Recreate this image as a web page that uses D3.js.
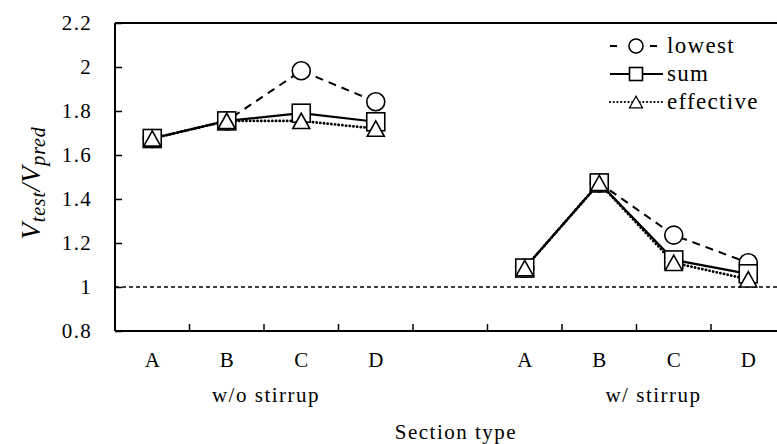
<!DOCTYPE html>
<html>
<head>
<meta charset="utf-8">
<script src="https://cdn.jsdelivr.net/npm/d3@7"></script>
<style>
body { margin: 0; background: #fff; }
</style>
</head>
<body>
<script>
// section types and groups
var sections = ["A", "B", "C", "D"];
var groups = ["w/o stirrup", "w/ stirrup"];
var yTicks = [0.8, 1, 1.2, 1.4, 1.6, 1.8, 2, 2.2];

// Vtest/Vpred ratios, one array per group
var lowest = [[1.675, 1.755, 1.983, 1.842], [1.086, 1.473, 1.236, 1.11]];
var sum = [[1.675, 1.755, 1.79, 1.751], [1.086, 1.473, 1.123, 1.06]];
var effective = [[1.675, 1.755, 1.755, 1.72], [1.086, 1.473, 1.11, 1.035]];

(function(){

var width = 777, height = 444;
var plotLeft = 115, plotTop = 23, plotBottom = 331;
var slotW = 74.5;
var serif = "'Liberation Serif', 'DejaVu Serif', serif";

var svg = d3.select("body").append("svg")
	.attr("width", width)
	.attr("height", height)
	.attr("font-family", serif);

// 9 slots: 4 sections, one empty gap, 4 sections
var slots = [];
groups.forEach(function(g, gi){
	sections.forEach(function(s){ slots.push(gi + s); });
	if (gi == 0) slots.push("gap");
});

var x = d3.scaleBand()
	.domain(slots)
	.range([plotLeft, plotLeft + slotW * slots.length])
	.padding(0);

var y = d3.scaleLinear()
	.domain([0.8, 2.2])
	.range([plotBottom, plotTop]);

function cx(gi, i){ return x(gi + sections[i]) + x.bandwidth() / 2; }

//y axis with inward ticks
var yAxis = svg.append("g")
	.attr("transform", "translate(" + plotLeft + ",0)")
	.call(d3.axisLeft(y).tickValues(yTicks).tickSize(-7).tickPadding(23)
		.tickFormat(function(d){ return String(+d.toFixed(1)); }));
yAxis.attr("font-family", serif).attr("font-size", 21);
yAxis.select(".domain").remove();
yAxis.selectAll(".tick line").attr("stroke", "#000").attr("stroke-width", 1.5);
yAxis.selectAll(".tick text").attr("fill", "#000").attr("letter-spacing", "1.3px");

//x axis: ticks at slot boundaries, pointing up
var boundaries = slots.slice(0, -1).map(function(s){ return x(s) + x.bandwidth(); });
svg.append("g")
	.selectAll("line")
	.data(boundaries.concat([x.range()[1]]))
	.enter()
	.append("line")
	.attr("x1", function(d){ return d; })
	.attr("x2", function(d){ return d; })
	.attr("y1", plotBottom)
	.attr("y2", plotBottom - 7)
	.attr("stroke", "#000")
	.attr("stroke-width", 1.5);

//frame lines: left, bottom, top
svg.append("line").attr("x1", plotLeft).attr("x2", plotLeft).attr("y1", plotTop).attr("y2", plotBottom)
	.attr("stroke", "#000").attr("stroke-width", 2);
svg.append("line").attr("x1", plotLeft).attr("x2", width).attr("y1", plotBottom).attr("y2", plotBottom)
	.attr("stroke", "#000").attr("stroke-width", 2);
svg.append("line").attr("x1", plotLeft).attr("x2", width).attr("y1", plotTop).attr("y2", plotTop)
	.attr("stroke", "#000").attr("stroke-width", 2);

//reference line at 1
svg.append("line")
	.attr("x1", plotLeft).attr("x2", width)
	.attr("y1", y(1)).attr("y2", y(1))
	.attr("stroke", "#000").attr("stroke-width", 1.5)
	.attr("stroke-dasharray", "4,3");

//section labels
groups.forEach(function(g, gi){
	svg.selectAll(".sec" + gi)
		.data(sections)
		.enter()
		.append("text")
		.attr("class", "sec" + gi)
		.attr("x", function(d, i){ return cx(gi, i); })
		.attr("y", 367)
		.attr("text-anchor", "middle")
		.attr("font-size", 21)
		.text(function(d){ return d; });
	svg.append("text")
		.attr("x", x(gi + "B") + x.bandwidth() + (gi == 0 ? 2 : 17))
		.attr("y", 402)
		.attr("text-anchor", "middle")
		.attr("font-size", 21)
		.attr("letter-spacing", "1.5px")
		.text(g);
});

svg.append("text")
	.attr("x", 456)
	.attr("y", 439)
	.attr("text-anchor", "middle")
	.attr("font-size", 21)
	.attr("letter-spacing", "1.5px")
	.text("Section type");

//y label
var yl = svg.append("text")
	.attr("transform", "translate(40,183) rotate(-90)")
	.attr("text-anchor", "middle")
	.attr("font-size", 27)
	.attr("font-style", "italic")
	.attr("letter-spacing", "0.8px");
yl.append("tspan").text("V");
yl.append("tspan").attr("dy", 5).attr("font-size", 20).text("test");
yl.append("tspan").attr("dy", -5).text("/V");
yl.append("tspan").attr("dy", 5).attr("font-size", 20).text("pred");

//lines
var series = [
	{name: "lowest", vals: lowest, dash: "8,6", cap: "butt", w: 2},
	{name: "sum", vals: sum, dash: null, cap: "butt", w: 2.2},
	{name: "effective", vals: effective, dash: "0.1,3.6", cap: "round", w: 2.8}
];

var line = d3.line()
	.x(function(d){ return d[0]; })
	.y(function(d){ return y(d[1]); });

series.forEach(function(s){
	groups.forEach(function(g, gi){
		var pts = s.vals[gi].map(function(v, i){ return [cx(gi, i), v]; });
		svg.append("path")
			.datum(pts)
			.attr("d", line)
			.attr("fill", "none")
			.attr("stroke", "#000")
			.attr("stroke-width", s.w)
			.attr("stroke-linecap", s.cap)
			.attr("stroke-dasharray", s.dash);
	});
});

//markers
function marker(sel, type, size){
	if (type == "lowest"){
		sel.append("circle").attr("r", size * 0.5);
	} else if (type == "sum"){
		sel.append("rect").attr("x", -size / 2).attr("y", -size / 2)
			.attr("width", size).attr("height", size);
	} else {
		var h = size * 0.9;
		sel.append("path")
			.attr("d", "M0," + (-h / 2) + "L" + (size / 2) + "," + (h / 2) + "L" + (-size / 2) + "," + (h / 2) + "Z");
	}
	sel.selectAll("*").attr("fill", "#fff").attr("stroke", "#000").attr("stroke-width", 1.6);
}

series.forEach(function(s){
	groups.forEach(function(g, gi){
		s.vals[gi].forEach(function(v, i){
			var m = svg.append("g").attr("transform", "translate(" + cx(gi, i) + "," + y(v) + ")");
			marker(m, s.name, s.name == "effective" ? 17 : 18);
		});
	});
});

//legend
var legY = [46, 74, 102];
series.forEach(function(s, i){
	var g = svg.append("g").attr("transform", "translate(0," + legY[i] + ")");
	if (s.name == "lowest"){
		g.append("line").attr("x1", 610).attr("x2", 617).attr("y1", 0).attr("y2", 0)
			.attr("stroke", "#000").attr("stroke-width", 2);
		g.append("line").attr("x1", 650).attr("x2", 657).attr("y1", 0).attr("y2", 0)
			.attr("stroke", "#000").attr("stroke-width", 2);
	} else {
		g.append("line").attr("x1", 610).attr("x2", 663).attr("y1", 0).attr("y2", 0)
			.attr("stroke", "#000").attr("stroke-width", s.name == "sum" ? 2 : 2.2)
			.attr("stroke-linecap", s.cap)
			.attr("stroke-dasharray", s.name == "sum" ? null : "0.1,3.6");
	}
	var m = g.append("g").attr("transform", "translate(636,0)");
	marker(m, s.name, s.name == "lowest" ? 14 : 13);
	if (s.name == "effective") m.selectAll("*").attr("stroke-width", 1.2);
	g.append("text")
		.attr("x", 667)
		.attr("y", 7)
		.attr("font-size", 23)
		.attr("letter-spacing", "1.3px")
		.text(s.name);
});

})();
</script>
</body>
</html>
